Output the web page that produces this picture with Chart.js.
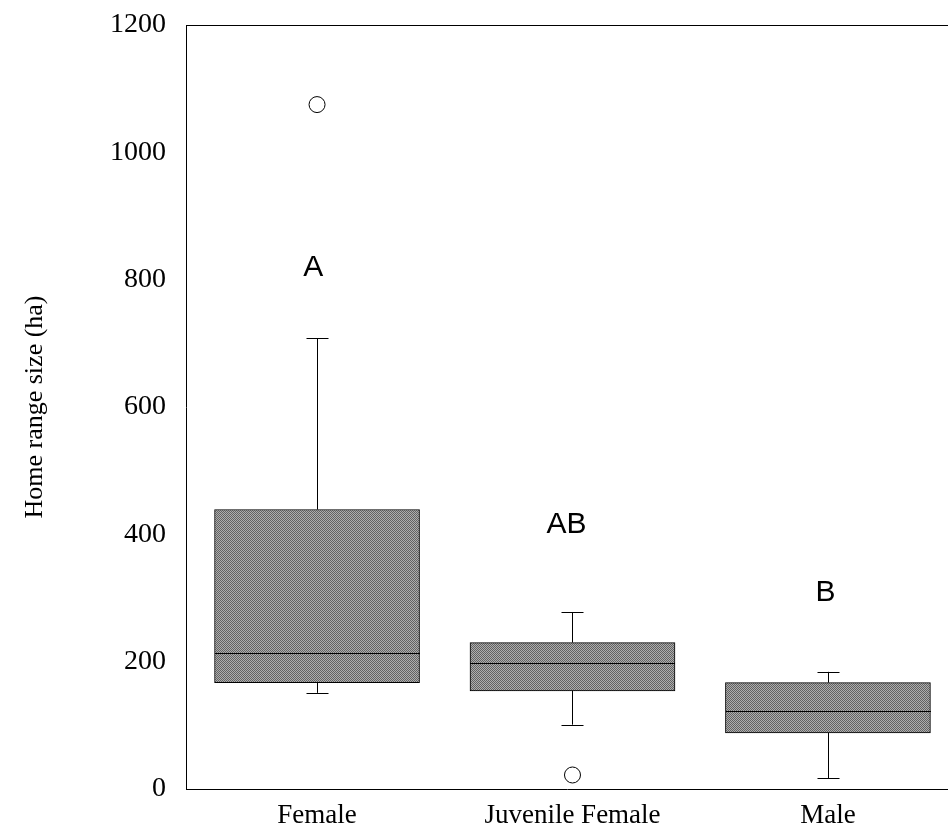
<!DOCTYPE html>
<html>
<head>
<meta charset="utf-8">
<script src="https://cdn.jsdelivr.net/npm/chart.js@4/dist/chart.umd.min.js"></script>
<style>
  html, body { margin: 0; padding: 0; background: #fff; overflow: hidden; }
  #wrap { width: 948px; height: 837px; position: relative; }
  #chart { display: block; }
</style>
</head>
<body>
<div id="wrap"><canvas id="chart"></canvas></div>
<script>
// ---- Data ----
const categories = ["Female", "Juvenile Female", "Male"];
const positions = [1, 2, 3];
const q1 = [167, 154, 88];
const q3 = [439, 230, 167];
const medians = [214, 198, 123];
const whiskerLow = [151, 101, 17];
const whiskerHigh = [708, 278, 184];
const outlierX = [1, 2];
const outlierY = [1075, 22];
const groupLetters = ["A", "AB", "B"];
const letterX = [0.985, 1.977, 2.99];
const letterY = [819, 415, 308];
const yTicks = [0, 200, 400, 600, 800, 1000, 1200];

const BOX_W = 205;
const CAP_W = 22;
const serif = '"Liberation Serif", "Times New Roman", serif';
const sans = '"Liberation Sans", Arial, sans-serif';

// dithered grey fill like the scanned figure
function ditherPattern() {
  const c = document.createElement("canvas");
  c.width = 2;
  c.height = 2;
  const g = c.getContext("2d");
  g.fillStyle = "#aeaeae";
  g.fillRect(0, 0, 2, 2);
  g.fillStyle = "#626262";
  g.fillRect(0, 0, 1, 1);
  g.fillRect(1, 1, 1, 1);
  return g.createPattern(c, "repeat");
}

// no extra room for overhanging tick labels; the frame is set by hand
function fixPadding(s) {
  s.paddingTop = 0;
  s.paddingBottom = 0;
  s.paddingLeft = 0;
  s.paddingRight = 0;
}

// whiskers, caps, medians, letters and the top frame line
const boxExtras = {
  id: "boxExtras",
  afterDatasetsDraw(chart) {
    const { ctx, chartArea, scales } = chart;
    const x = scales.x, y = scales.y;
    ctx.save();
    ctx.strokeStyle = "#000";
    ctx.lineWidth = 1;
    ctx.beginPath();
    ctx.moveTo(chartArea.left, Math.round(chartArea.top) + 0.5);
    ctx.lineTo(chartArea.right, Math.round(chartArea.top) + 0.5);
    ctx.stroke();

    positions.forEach((p, i) => {
      const cx = Math.round(x.getPixelForValue(p)) + 0.5;
      const yLo = y.getPixelForValue(whiskerLow[i]);
      const yHi = y.getPixelForValue(whiskerHigh[i]);
      const yQ1 = y.getPixelForValue(q1[i]);
      const yQ3 = y.getPixelForValue(q3[i]);
      const yMed = Math.round(y.getPixelForValue(medians[i])) + 0.5;
      ctx.beginPath();
      ctx.moveTo(cx, yQ3);
      ctx.lineTo(cx, yHi);
      ctx.moveTo(cx - CAP_W / 2, Math.round(yHi) + 0.5);
      ctx.lineTo(cx + CAP_W / 2, Math.round(yHi) + 0.5);
      ctx.moveTo(cx, yQ1);
      ctx.lineTo(cx, yLo);
      ctx.moveTo(cx - CAP_W / 2, Math.round(yLo) + 0.5);
      ctx.lineTo(cx + CAP_W / 2, Math.round(yLo) + 0.5);
      ctx.moveTo(cx - BOX_W / 2, yMed);
      ctx.lineTo(cx + BOX_W / 2, yMed);
      ctx.stroke();
    });

    ctx.fillStyle = "#000";
    ctx.font = `30px ${sans}`;
    ctx.textAlign = "center";
    ctx.textBaseline = "middle";
    groupLetters.forEach((t, i) => {
      ctx.fillText(t, x.getPixelForValue(letterX[i]), y.getPixelForValue(letterY[i]));
    });
    ctx.restore();
  },
};

new Chart(document.getElementById("chart"), {
  type: "bar",
  data: {
    datasets: [
      {
        type: "bar",
        data: positions.map((p, i) => ({ x: p, y: [q1[i], q3[i]] })),
        backgroundColor: ditherPattern(),
        borderColor: "#000",
        borderWidth: 1,
        borderSkipped: false,
        barThickness: BOX_W,
        order: 2,
      },
      {
        type: "scatter",
        data: outlierX.map((v, i) => ({ x: v, y: outlierY[i] })),
        pointRadius: 8,
        pointBackgroundColor: "#fff",
        pointBorderColor: "#000",
        pointBorderWidth: 1,
        showLine: false,
        clip: false,
        order: 1,
      },
    ],
  },
  options: {
    responsive: true,
    maintainAspectRatio: false,
    animation: false,
    layout: { autoPadding: false, padding: { top: 25, right: 0, bottom: 0, left: 0 } },
    plugins: { legend: { display: false }, tooltip: { enabled: false } },
    scales: {
      x: {
        type: "linear",
        offset: false,
        min: 0.487,
        max: 3.47,
        grid: { display: false, drawTicks: false, offset: false },
        border: { display: true, color: "#000", width: 1 },
        afterBuildTicks: (s) => { s.ticks = positions.map((v) => ({ value: v })); },
        afterFit: (s) => { s.height = 48; fixPadding(s); },
        ticks: {
          color: "#000",
          font: { family: serif, size: 27 },
          padding: 11,
          maxRotation: 0,
          callback: (v) => categories[positions.indexOf(v)] ?? "",
        },
      },
      y: {
        min: 0,
        max: 1200,
        grid: { display: false, drawTicks: false },
        border: { display: true, color: "#000", width: 1 },
        afterBuildTicks: (s) => { s.ticks = yTicks.map((v) => ({ value: v })); },
        afterFit: (s) => { s.width = 186; fixPadding(s); },
        ticks: {
          color: "#000",
          font: { family: serif, size: 28 },
          padding: 20,
          callback: (v) => String(v),
        },
        title: {
          display: true,
          text: "Home range size (ha)",
          color: "#000",
          font: { family: serif, size: 26 },
          padding: { top: 20, bottom: 0 },
        },
      },
    },
  },
  plugins: [boxExtras],
});
</script>
</body>
</html>
